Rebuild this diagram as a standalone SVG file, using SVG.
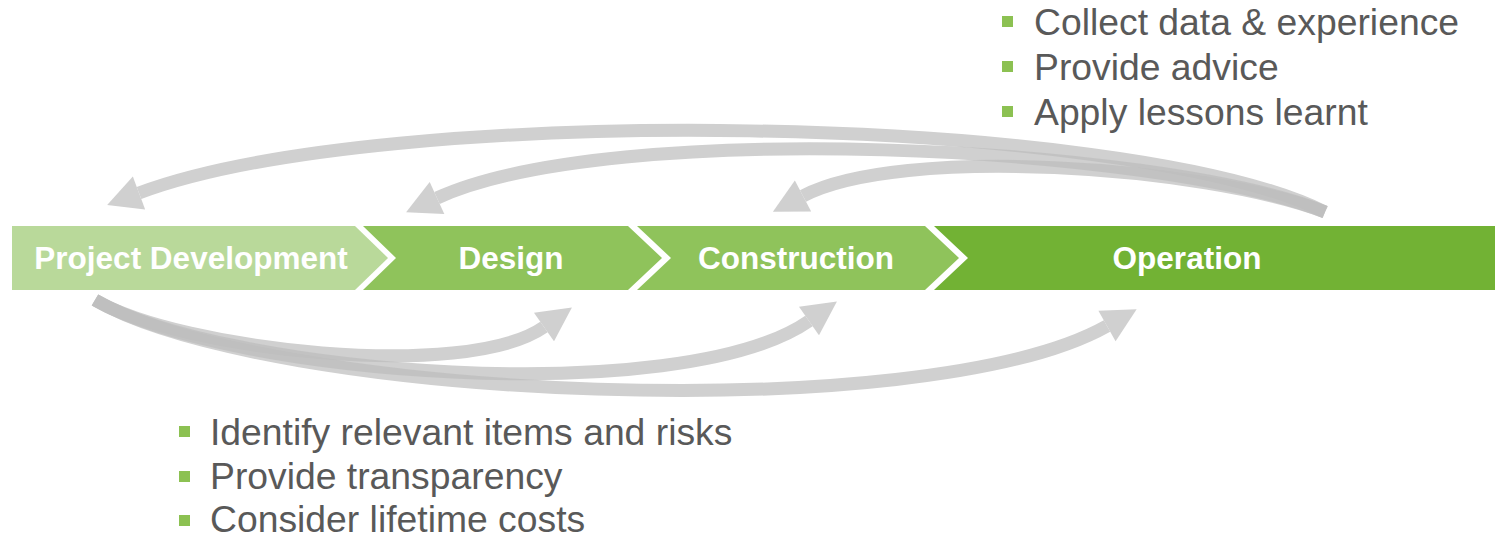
<svg xmlns="http://www.w3.org/2000/svg" width="1495" height="536" viewBox="0 0 1495 536">
  <style>
    .lbl { font-family: "Liberation Sans", Arial, sans-serif; font-weight: bold; font-size: 31.5px; fill: #ffffff; text-anchor: middle; }
    .bul { font-family: "Liberation Sans", Arial, sans-serif; font-size: 37.3px; fill: #595959; }
    .sq { fill: #8cc152; }
    .shaft { fill: none; stroke: #bebebe; stroke-width: 13; stroke-linecap: butt; }
    .arr { opacity: 0.72; }
  </style>
  <defs>
    <marker id="head" markerUnits="userSpaceOnUse" viewBox="-1 -19 38 38" markerWidth="38" markerHeight="38" refX="0" refY="0" orient="auto" overflow="visible">
      <path d="M0,-17.5 L34,0 L0,17.5 Z" fill="#bebebe"/>
    </marker>
  </defs>
  <rect width="1495" height="536" fill="#ffffff"/>

  <g id="connectors">
    <g class="arr"><path class="shaft" d="M1325,212 C1127,113 384,101 139,193" marker-end="url(#head)"/></g>
    <g class="arr"><path class="shaft" d="M1325,212 C1158,145 611,118 437,198" marker-end="url(#head)"/></g>
    <g class="arr"><path class="shaft" d="M1325,212 C1203,166 900,145 803,196" marker-end="url(#head)"/></g>
    <g class="arr"><path class="shaft" d="M95,300 C181,350 465,382 544,327" marker-end="url(#head)"/></g>
    <g class="arr"><path class="shaft" d="M95,300 C224,375 681,410 809,321" marker-end="url(#head)"/></g>
    <g class="arr"><path class="shaft" d="M95,300 C267,400 924,429 1107,326" marker-end="url(#head)"/></g>
  </g>

  <g id="project-development">
    <polygon points="12,226 355,226 388,258 355,290 12,290" fill="#b9d99a"/>
    <text class="lbl" x="191" y="269">Project Development</text>
  </g>
  <g id="design">
    <polygon points="363,226 628,226 662,258 628,290 363,290 396,258" fill="#8fc35b"/>
    <text class="lbl" x="511" y="269">Design</text>
  </g>
  <g id="construction">
    <polygon points="637,226 925,226 959,258 925,290 637,290 671,258" fill="#8fc35b"/>
    <text class="lbl" x="796" y="269">Construction</text>
  </g>
  <g id="operation">
    <polygon points="934,226 1495,226 1495,290 934,290 968,258" fill="#72b234"/>
    <text class="lbl" x="1187" y="269">Operation</text>
  </g>

  <g id="feedback-list">
    <rect class="sq" x="1002" y="16" width="11" height="11"/>
    <text class="bul" x="1034" y="35">Collect data &amp; experience</text>
    <rect class="sq" x="1002" y="61" width="11" height="11"/>
    <text class="bul" x="1034" y="80">Provide advice</text>
    <rect class="sq" x="1002" y="106" width="11" height="11"/>
    <text class="bul" x="1034" y="125">Apply lessons learnt</text>
  </g>

  <g id="forward-list">
    <rect class="sq" x="179" y="426" width="11" height="11"/>
    <text class="bul" x="210" y="445">Identify relevant items and risks</text>
    <rect class="sq" x="179" y="471" width="11" height="11"/>
    <text class="bul" x="210" y="489">Provide transparency</text>
    <rect class="sq" x="179" y="515" width="11" height="11"/>
    <text class="bul" x="210" y="532">Consider lifetime costs</text>
  </g>
</svg>
